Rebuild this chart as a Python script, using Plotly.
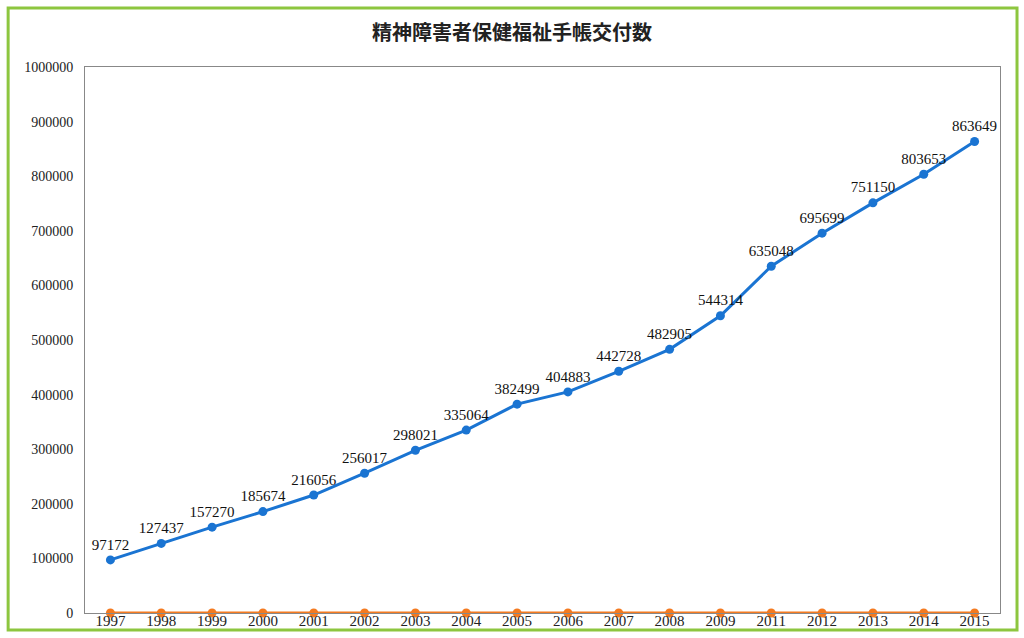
import plotly.graph_objects as go

years = ["1997", "1998", "1999", "2000", "2001", "2002", "2003", "2004", "2005",
         "2006", "2007", "2008", "2009", "2011", "2012", "2013", "2014", "2015"]
issued = [97172, 127437, 157270, 185674, 216056, 256017, 298021, 335064, 382499,
          404883, 442728, 482905, 544314, 635048, 695699, 751150, 803653, 863649]
second = [0] * len(years)
y_ticks = [0, 100000, 200000, 300000, 400000, 500000, 600000, 700000, 800000, 900000, 1000000]

fig = go.Figure()
fig.add_trace(go.Scatter(
    x=years, y=second, mode="lines+markers",
    line=dict(color="#f47a20", width=3),
    marker=dict(color="#f47a20", size=9),
    cliponaxis=False, showlegend=False,
))
fig.add_trace(go.Scatter(
    x=years, y=issued, mode="lines+markers+text",
    text=[str(v) for v in issued], textposition="top center",
    textfont=dict(family="Liberation Serif", size=15, color="#111"),
    line=dict(color="#1a74d2", width=3),
    marker=dict(color="#1a74d2", size=9),
    cliponaxis=False, showlegend=False,
))

fig.update_layout(
    width=1024, height=638,
    margin=dict(l=85, r=24, t=67, b=25),
    paper_bgcolor="white", plot_bgcolor="white",
    title=dict(text="<b>精神障害者保健福祉手帳交付数</b>", x=0.5, xanchor="center",
               y=0.948, yanchor="middle",
               font=dict(family="Noto Sans CJK JP", size=20, color="#222")),
    font=dict(family="Liberation Serif", size=15, color="#222"),
    xaxis=dict(type="category", range=[-0.5, len(years) - 0.5], automargin=False,
               showline=True, linecolor="#888", linewidth=1, mirror=True,
               showgrid=False, ticks="", tickfont=dict(size=15), ticklabelstandoff=-6),
    yaxis=dict(range=[0, 1000000], tickvals=y_ticks, ticktext=[str(v) for v in y_ticks],
               automargin=False,
               showline=True, linecolor="#888", linewidth=1, mirror=True,
               showgrid=False, zeroline=False, ticks="", tickfont=dict(size=14),
               ticklabelstandoff=8),
    shapes=[dict(type="rect", xref="paper", yref="paper",
                 x0=-0.084, x1=1.0186, y0=-0.031, y1=1.108,
                 line=dict(color="#8dc63f", width=3), layer="below")],
)

fig.write_html("out.html")
